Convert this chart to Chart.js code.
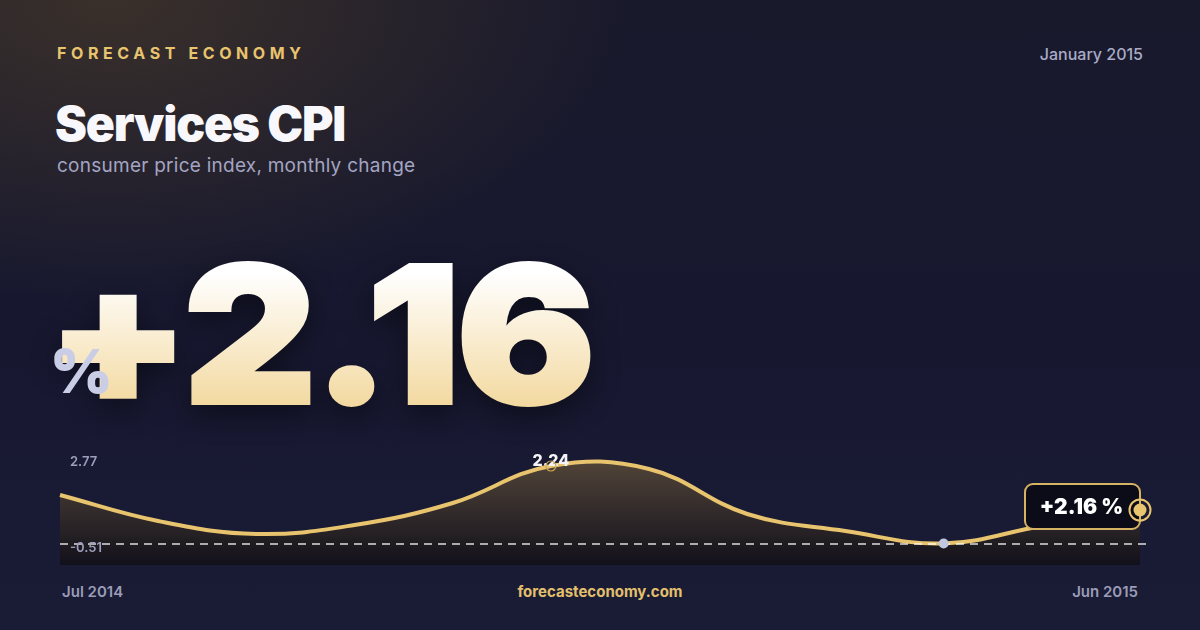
<!DOCTYPE html>
<html>
<head>
<meta charset="utf-8">
<script src="https://cdn.jsdelivr.net/npm/chart.js@4/dist/chart.umd.min.js"></script>
<style>
  html, body { margin: 0; padding: 0; }
  body {
    width: 1200px; height: 630px; overflow: hidden; position: relative;
    font-family: Inter, "Noto Sans", sans-serif;
    background:
      radial-gradient(ellipse 520px 300px at 110px 0px, rgba(72, 58, 42, 0.7), rgba(72, 58, 42, 0) 100%),
      linear-gradient(180deg, #19192c 0%, #171830 55%, #1a1b35 100%);
  }
  .abs { position: absolute; white-space: nowrap; }
  #brand { left: 57px; top: 43px; font-size: 16px; font-weight: 700; letter-spacing: 4.6px; color: #e8c46e; line-height: 20px; }
  #date { right: 57px; top: 44px; font-size: 16px; font-weight: 500; color: #a9abc6; line-height: 20px; }
  #title { left: 55px; top: 100px; font-size: 48px; font-weight: 900; color: #f8f8fc; line-height: 48px; letter-spacing: -1.2px; }
  #subtitle { left: 57px; top: 154px; font-size: 19px; font-weight: 400; color: #a3a5c2; line-height: 24px; letter-spacing: 0.25px; }
  #big {
    left: 47px; top: 239px; font-size: 190px; font-weight: 900; line-height: 190px; letter-spacing: -3px;
    transform: scaleX(1.08); transform-origin: 0 0;
    background: linear-gradient(180deg, #ffffff 18%, #f3d9a0 88%);
    -webkit-background-clip: text; background-clip: text; color: transparent;
    -webkit-text-stroke: 4px transparent;
    filter: drop-shadow(0 10px 14px rgba(0, 0, 0, 0.45));
  }
  #pct { left: 50px; top: 341px; font-size: 60px; font-weight: 900; line-height: 60px; color: #c9cde6; }
  #wrap { left: 40px; top: 440px; width: 1130px; height: 135px; }
  .foot { top: 583px; font-size: 15px; font-weight: 600; line-height: 18px; }
  #start { left: 62px; color: #9a9cb8; }
  #site { left: 0; width: 1200px; text-align: center; color: #e3c06c; font-weight: 700; }
  #end { right: 62px; color: #9a9cb8; }
</style>
</head>
<body>
<div class="abs" id="brand">FORECAST ECONOMY</div>
<div class="abs" id="date">January 2015</div>
<div class="abs" id="title">Services CPI</div>
<div class="abs" id="subtitle">consumer price index, monthly change</div>
<div class="abs" id="big">+2.16</div>
<div class="abs" id="pct">%</div>
<div class="abs" id="wrap"><canvas id="c"></canvas></div>
<div class="abs foot" id="start">Jul 2014</div>
<div class="abs foot" id="site">forecasteconomy.com</div>
<div class="abs foot" id="end">Jun 2015</div>

<script>
// months Jul 2014 .. Jun 2015
const months = ["Jul 2014", "Aug 2014", "Sep 2014", "Oct 2014", "Nov 2014", "Dec 2014",
                "Jan 2015", "Feb 2015", "Mar 2015", "Apr 2015", "May 2015", "Jun 2015"];
const values = [1.45, 0.41, -0.11, 0.25, 1.13, 2.61, 2.49, 0.69, 0.01, -0.49, 0.21, 0.85];
const yTickValues = [2.77, -0.51];
const yTickLabels = ["2.77", "-0.51"];
const peakIndex = 5;
const peakLabel = "2.24";
const minIndex = 9;
const lastLabel = "+2.16 %";

const GOLD = "#e8c46e";

// dashed baseline, min/max labels, annotations
const overlay = {
  id: "overlay",
  afterDatasetsDraw(chart) {
    const { ctx, chartArea, scales } = chart;
    const meta = chart.getDatasetMeta(0);
    const yMin = scales.y.getPixelForValue(yTickValues[1]);
    const yMax = scales.y.getPixelForValue(yTickValues[0]);

    ctx.save();
    ctx.strokeStyle = "rgba(255,255,255,0.85)";
    ctx.lineWidth = 1.3;
    ctx.setLineDash([8, 6]);
    ctx.beginPath();
    ctx.moveTo(chartArea.left, yMin);
    ctx.lineTo(chartArea.right + 6, yMin);
    ctx.stroke();
    ctx.setLineDash([]);

    ctx.font = "600 13px Inter";
    ctx.fillStyle = "#9c9ebb";
    ctx.textAlign = "left";
    ctx.textBaseline = "middle";
    ctx.fillText(yTickLabels[0], chartArea.left + 10, yMax);
    ctx.fillText(yTickLabels[1], chartArea.left + 10, yMin + 4);

    // peak label + hollow marker
    const pk = meta.data[peakIndex];
    ctx.font = "800 16px Inter";
    ctx.fillStyle = "#f4f4f8";
    ctx.textAlign = "center";
    ctx.fillText(peakLabel, pk.x, pk.y - 5);
    ctx.strokeStyle = "#c9a452";
    ctx.lineWidth = 1.2;
    ctx.beginPath();
    ctx.arc(pk.x, pk.y, 5, 0, Math.PI * 2);
    ctx.stroke();

    // min dot
    const mn = meta.data[minIndex];
    ctx.fillStyle = "#c2c6de";
    ctx.beginPath();
    ctx.arc(mn.x, mn.y, 5, 0, Math.PI * 2);
    ctx.fill();

    // last value badge
    const ls = meta.data[values.length - 1];
    const bw = 115, bh = 45, bx = ls.x - bw, by = ls.y - 26;
    ctx.fillStyle = "#0b0c18";
    ctx.strokeStyle = "#d6b362";
    ctx.lineWidth = 2;
    ctx.beginPath();
    ctx.roundRect(bx, by, bw, bh, 8);
    ctx.fill();
    ctx.stroke();
    ctx.font = "900 21px Inter";
    ctx.fillStyle = "#ffffff";
    ctx.textAlign = "center";
    ctx.fillText(lastLabel, bx + bw / 2 - 1, by + bh / 2 + 1);

    // end marker
    ctx.strokeStyle = GOLD;
    ctx.lineWidth = 2;
    ctx.beginPath();
    ctx.arc(ls.x, ls.y, 10.5, 0, Math.PI * 2);
    ctx.stroke();
    ctx.fillStyle = GOLD;
    ctx.beginPath();
    ctx.arc(ls.x, ls.y, 6.5, 0, Math.PI * 2);
    ctx.fill();
    ctx.restore();
  }
};

const canvas = document.getElementById("c");
new Chart(canvas, {
  type: "line",
  data: {
    labels: months,
    datasets: [{
      data: values,
      borderColor: GOLD,
      borderWidth: 4,
      tension: 0.4,
      pointRadius: 0,
      fill: "start",
      backgroundColor: (context) => {
        const area = context.chart.chartArea;
        if (!area) return "rgba(0,0,0,0)";
        const g = context.chart.ctx.createLinearGradient(0, area.top, 0, area.bottom);
        g.addColorStop(0, "rgba(88, 74, 58, 0.95)");
        g.addColorStop(0.55, "rgba(50, 42, 42, 0.95)");
        g.addColorStop(1, "rgba(18, 17, 26, 0.98)");
        return g;
      },
      clip: false
    }]
  },
  options: {
    responsive: true,
    maintainAspectRatio: false,
    animation: false,
    layout: { padding: { left: 20, right: 30, top: 15, bottom: 10 } },
    plugins: { legend: { display: false }, tooltip: { enabled: false } },
    scales: {
      x: { display: false, offset: false },
      y: { display: false, min: -1.35, max: 3.05 }
    }
  },
  plugins: [overlay]
});
</script>
</body>
</html>
